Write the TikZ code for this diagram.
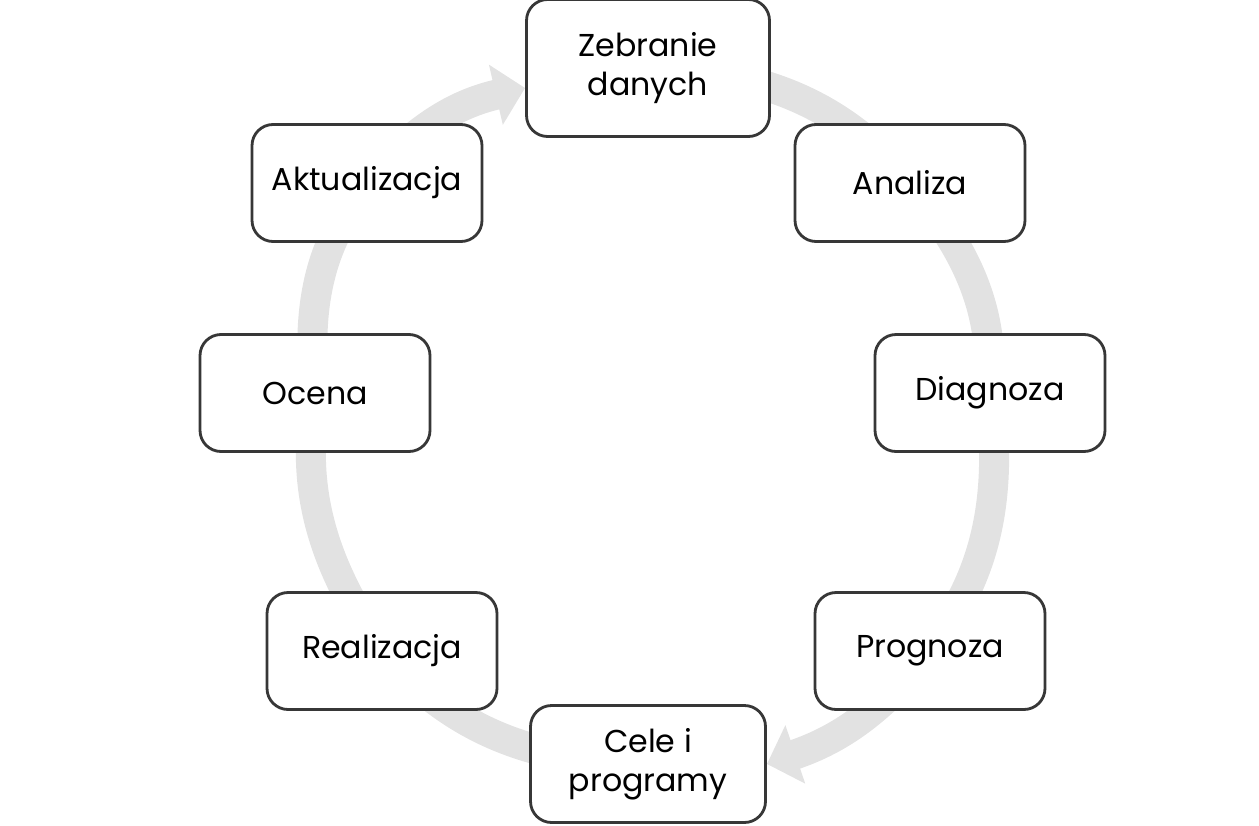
\documentclass[tikz,border=0pt]{standalone}
\usepackage{fontspec}
\setmainfont{Poppins}
\usepackage{tikz}
\usetikzlibrary{arrows.meta,backgrounds}
\definecolor{boxline}{RGB}{55,55,55}
\definecolor{cycgray}{RGB}{226,226,226}

\begin{document}
\begin{tikzpicture}[
	stage/.style={draw=boxline, line width=1.6pt, rounded corners=12pt, fill=white,
		minimum width=4.6cm, minimum height=2.34cm, align=center, font=\fontsize{18}{22}\selectfont},
	cyc/.style={draw=cycgray, line width=6mm, -{Triangle[width=12mm,length=6mm]}}]
	\useasboundingbox (0,0) rectangle (25.18,16.5);
	\node[stage, minimum width=4.86cm, minimum height=2.74cm] (zeb) at (12.96,15.14) {Zebranie\\danych};
	\node[stage] (ana) at (18.2,12.84) {Analiza};
	\node[stage] (dia) at (19.8,8.64) {Diagnoza};
	\node[stage] (pro) at (18.6,3.48) {Prognoza};
	\node[stage, minimum width=4.7cm] (cel) at (12.96,1.22) {Cele i\\programy};
	\node[stage] (rea) at (7.64,3.48) {Realizacja};
	\node[stage] (oce) at (6.3,8.64) {Ocena};
	\node[stage] (akt) at (7.34,12.84) {Aktualizacja};
	\begin{scope}[on background layer]
		\draw[cyc] (akt.center) to[bend left=18] ([yshift=-4mm]zeb.west);
		\draw[cyc] (zeb.center) to[bend left=22] (ana.center);
		\draw[cyc] (ana.center) to[bend left=20] (dia.center);
		\draw[cyc] (dia.center) to[bend left=20] (pro.center);
		\draw[cyc] (pro.center) to[bend left=16] (cel.east);
		\draw[cyc] (cel.center) to[bend left=22] (rea.center);
		\draw[cyc] (rea.center) to[bend left=20] (oce.center);
		\draw[cyc] (oce.center) to[bend left=20] (akt.center);
	\end{scope}
\end{tikzpicture}
\end{document}
